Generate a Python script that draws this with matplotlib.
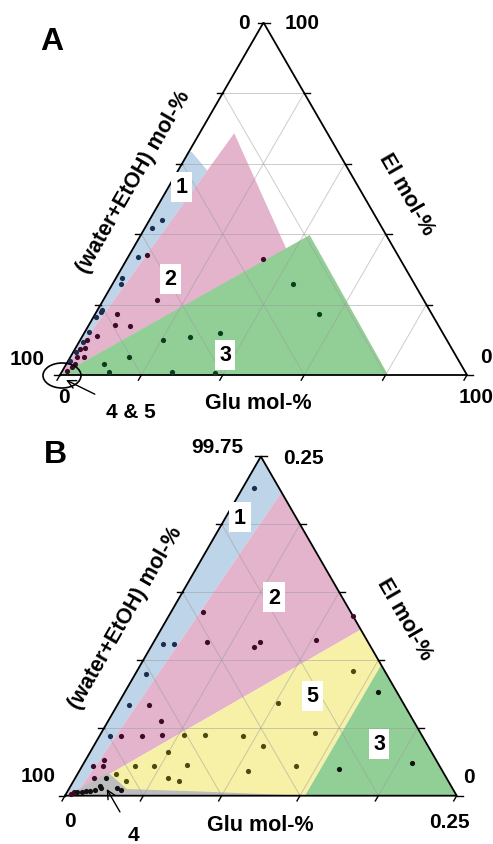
import numpy as np
import matplotlib
matplotlib.use("Agg")
import matplotlib.pyplot as plt
from matplotlib.patches import Polygon, Ellipse

plt.rcParams['font.family'] = ['Liberation Sans', 'DejaVu Sans']
plt.rcParams['font.weight'] = 'bold'

# ---------------- Panel A data (mol-%) ----------------
A_scale = 100.0
A_ticklabels = ["0", "100", "100", "0", "0", "100"]
A_blue_glu = [3.1, 1.8, 2.4, 1.5, 2.1, 1.1, 1.1, 0.7, 1.0, 0.8, 0.6, 0.4]
A_blue_el = [44.1, 41.6, 33.4, 27.4, 25.7, 18.4, 17.8, 16.4, 12.3, 9.5, 6.5, 4.0]
A_pink_glu = [33.5, 13.2, 4.4, 5.4, 6.5, 10.3, 3.6, 1.8, 2.4, 3.4, 1.6, 1.2, 2.1, 1.8, 1.0]
A_pink_el = [32.9, 21.4, 34.1, 17.3, 14.1, 14.0, 11.0, 9.9, 7.6, 5.0, 5.0, 7.4, 3.1, 2.3, 1.2]
A_green_glu = [44.5, 55.0, 33.3, 26.5, 20.3, 14.4, 9.4, 11.5, 27.0, 37.8]
A_green_el = [25.7, 17.2, 12.0, 10.9, 9.9, 5.0, 3.0, 0.9, 0.9, 0.5]

A_reg1_glu = [0, 0, 0.7, 7.2]
A_reg1_el = [0, 63.1, 63.3, 58.0]
A_reg2_glu = [0, 8.5, 37.8]
A_reg2_el = [0, 68.6, 35.7]
A_reg3_glu = [0, 41.5, 80.6]
A_reg3_el = [0, 39.7, 0]

# ---------------- Panel B data (mol-%) ----------------
B_scale = 0.25
B_ticklabels = ["99.75", "0.25", "100", "0", "0", "0.25"]
B_blue_glu = [0.0073, 0.0069, 0.0137, 0.0070, 0.0072, 0.0066]
B_blue_el = [0.2267, 0.1117, 0.1117, 0.0895, 0.0669, 0.0442]
B_pink_glu = [0.0203, 0.0339, 0.0657, 0.0679, 0.1176, 0.1026, 0.0204, 0.0338, 0.0134,
              0.0268, 0.0397, 0.0118, 0.0068, 0.0136, 0.0121, 0.0045, 0.0030]
B_pink_el = [0.1353, 0.1131, 0.1099, 0.1136, 0.1327, 0.1148, 0.0669, 0.0553, 0.0442,
             0.0442, 0.0448, 0.0265, 0.0217, 0.0217, 0.0128, 0.0027, 0.0015]
B_yellow_glu = [0.1375, 0.1021, 0.0538, 0.0672, 0.0915, 0.1364, 0.1084, 0.0495, 0.0666,
                0.0338, 0.0458, 0.1080, 0.1366, 0.0593, 0.0670, 0.0334, 0.0245]
B_yellow_el = [0.0922, 0.0681, 0.0448, 0.0448, 0.0438, 0.0460, 0.0364, 0.0324, 0.0229,
               0.0217, 0.0217, 0.0180, 0.0221, 0.0128, 0.0111, 0.0111, 0.0160]
B_green_glu = [0.1618, 0.1652, 0.2095]
B_green_el = [0.0763, 0.0197, 0.0239]
B_gray_glu = [0.0198, 0.0187, 0.0200, 0.0169, 0.0141, 0.0118, 0.0092, 0.0066, 0.0302, 0.0334]
B_gray_el = [0.0128, 0.0074, 0.0055, 0.0044, 0.0037, 0.0032, 0.0030, 0.0025, 0.0057, 0.0042]

B_reg1_glu = [0, 0, 0.0263, 0.0066]
B_reg1_el = [0, 0.25, 0.2237, 0]
B_reg2_glu = [0.0066, 0.0263, 0.1276, 0.0192, 0.0019]
B_reg2_el = [0, 0.2237, 0.1224, 0.0147, 0]
B_reg5_glu = [0.0192, 0.1276, 0.1536, 0.1532, 0.0300]
B_reg5_el = [0.0147, 0.1224, 0.0964, 0, 0]
B_reg4_glu = [0.0019, 0.0189, 0.0371, 0.0846, 0.1532]
B_reg4_el = [0, 0.0171, 0.0049, 0.0031, 0]
B_reg3_glu = [0.1536, 0.25, 0.1532]
B_reg3_el = [0.0964, 0, 0]

C_BLUE = '#bed4e8'
C_PINK = '#e4b4cd'
C_GREEN = '#92cf96'
C_YELLOW = '#f7f1a8'
C_GRAY = '#bdbdbd'
D_BLUE = '#1c2d50'
D_PINK = '#3d0a2a'
D_GREEN = '#0b3d1c'
D_YELLOW = '#4d4a10'
D_BLACK = '#111111'

S3 = np.sqrt(3) / 2
FS_TICK = 15
FS_LAB = 15.5
FS_BOX = 15.5


def tern(glu, el, scale):
    g = np.asarray(glu, float) / scale
    e = np.asarray(el, float) / scale
    return g + e / 2, e * S3


fig = plt.figure(figsize=(4.93, 8.45), dpi=100)


def make_axes(rect, ox, oy, L, top_px, bot_px):
    ax = fig.add_axes(rect)
    ax.set_xlim(-ox / L, (493 - ox) / L)
    ax.set_ylim((oy - bot_px) / L, (oy - top_px) / L)
    ax.axis('off')
    P = lambda px, py: ((px - ox) / L, (oy - py) / L)
    return ax, P, L


def draw_frame(ax, L, labels, P, lab_pos):
    for k in range(1, 5):
        f = k / 5
        kw = dict(color='#9a9a9a', lw=0.7, alpha=0.5, zorder=2)
        ax.plot([f / 2, 1 - f / 2], [f * S3, f * S3], **kw)
        ax.plot([f, f / 2], [0, f * S3], **kw)
        ax.plot([f, (1 + f) / 2], [0, (1 - f) * S3], **kw)
    ax.plot([0, 1, 0.5, 0], [0, 0, S3, 0], color='black', lw=1.3, zorder=3,
            solid_joinstyle='miter')
    tl = 6 / L
    for k in range(6):
        f = k / 5
        ax.plot([f / 2, f / 2 - tl], [f * S3, f * S3], color='black', lw=1, zorder=3)
        ax.plot([1 - f / 2, 1 - f / 2 + tl], [f * S3, f * S3], color='black', lw=1, zorder=3)
        ax.plot([f, f - tl * 0.5], [0, -tl * S3], color='black', lw=1, zorder=3)
    for txt, (px, py) in zip(labels, lab_pos):
        ax.text(*P(px, py), txt, fontsize=FS_TICK, fontweight='bold', ha='center', va='center')


def poly(ax, glu, el, scale, color):
    x, y = tern(glu, el, scale)
    ax.add_patch(Polygon(np.column_stack([x, y]), closed=True, facecolor=color,
                         edgecolor='none', zorder=1))


def dots(ax, glu, el, scale, color):
    x, y = tern(glu, el, scale)
    ax.scatter(x, y, s=14, color=color, zorder=4, linewidths=0)


def box(ax, P, px, py, txt):
    ax.text(*P(px, py), txt, fontsize=FS_BOX, fontweight='bold', ha='center', va='center',
            zorder=6, bbox=dict(facecolor='white', edgecolor='none', pad=3.2))


# ---------------- Panel A ----------------
axA, PA, LA = make_axes([0, 1 - 420 / 845, 1, 420 / 845], 60, 376, 407, 0, 420)
poly(axA, A_reg1_glu, A_reg1_el, A_scale, C_BLUE)
poly(axA, A_reg2_glu, A_reg2_el, A_scale, C_PINK)
poly(axA, A_reg3_glu, A_reg3_el, A_scale, C_GREEN)
draw_frame(axA, LA, A_ticklabels, PA,
           [(244, 24), (302, 24), (27, 360), (64, 398), (486, 358), (476, 398)])
dots(axA, A_blue_glu, A_blue_el, A_scale, D_BLUE)
dots(axA, A_pink_glu, A_pink_el, A_scale, D_PINK)
dots(axA, A_green_glu, A_green_el, A_scale, D_GREEN)
box(axA, PA, 181.7, 188, "1")
box(axA, PA, 170.7, 280, "2")
box(axA, PA, 225, 355.7, "3")
axA.text(*PA(51.7, 42), "A", fontsize=23, fontweight='bold', ha='center', va='center')
axA.text(*PA(133.3, 182.5), "(water+EtOH) mol-%", fontsize=FS_LAB, fontweight='bold',
         rotation=60, ha='center', va='center', rotation_mode='anchor')
axA.text(*PA(406.7, 195), "El mol-%", fontsize=FS_LAB, fontweight='bold',
         rotation=-60, ha='center', va='center', rotation_mode='anchor')
axA.text(*PA(258, 404), "Glu mol-%", fontsize=FS_LAB, fontweight='bold',
         ha='center', va='center')
axA.add_patch(Ellipse(PA(62, 376.5), 38 / LA, 25 / LA, facecolor='none',
                      edgecolor='black', lw=1.2, zorder=5))
axA.annotate("4 & 5", xy=PA(66, 381), xytext=PA(131, 413), fontsize=FS_TICK,
             fontweight='bold', ha='center', va='center', annotation_clip=False,
             arrowprops=dict(arrowstyle='->', color='black', lw=1,
                             shrinkA=9, shrinkB=0))

# ---------------- Panel B ----------------
axB, PB, LB = make_axes([0, 0, 1, 425 / 845], 65, 796.7, 391.7, 420, 845)
poly(axB, B_reg1_glu, B_reg1_el, B_scale, C_BLUE)
poly(axB, B_reg2_glu, B_reg2_el, B_scale, C_PINK)
poly(axB, B_reg5_glu, B_reg5_el, B_scale, C_YELLOW)
poly(axB, B_reg4_glu, B_reg4_el, B_scale, C_GRAY)
poly(axB, B_reg3_glu, B_reg3_el, B_scale, C_GREEN)
draw_frame(axB, LB, B_ticklabels, PB,
           [(217, 448), (303, 459), (38, 777), (70, 822), (469, 778), (449, 823)])
dots(axB, B_blue_glu, B_blue_el, B_scale, D_BLUE)
dots(axB, B_pink_glu, B_pink_el, B_scale, D_PINK)
dots(axB, B_yellow_glu, B_yellow_el, B_scale, D_YELLOW)
dots(axB, B_green_glu, B_green_el, B_scale, D_BLACK)
dots(axB, B_gray_glu, B_gray_el, B_scale, D_BLACK)
box(axB, PB, 240, 518.3, "1")
box(axB, PB, 274, 598.3, "2")
box(axB, PB, 312.3, 696.7, "5")
box(axB, PB, 379, 745, "3")
axB.text(*PB(55, 455), "B", fontsize=23, fontweight='bold', ha='center', va='center')
axB.text(*PB(125.7, 618.3), "(water+EtOH) mol-%", fontsize=FS_LAB, fontweight='bold',
         rotation=60, ha='center', va='center', rotation_mode='anchor')
axB.text(*PB(404, 620), "El mol-%", fontsize=FS_LAB, fontweight='bold',
         rotation=-60, ha='center', va='center', rotation_mode='anchor')
axB.text(*PB(260.7, 826), "Glu mol-%", fontsize=FS_LAB, fontweight='bold',
         ha='center', va='center')
axB.annotate("4", xy=PB(106.7, 790), xytext=PB(133.3, 836), fontsize=FS_TICK,
             fontweight='bold', ha='center', va='center', annotation_clip=False,
             arrowprops=dict(arrowstyle='->', color='black', lw=1,
                             shrinkA=9, shrinkB=0))

fig.savefig("out.png", dpi=100)
